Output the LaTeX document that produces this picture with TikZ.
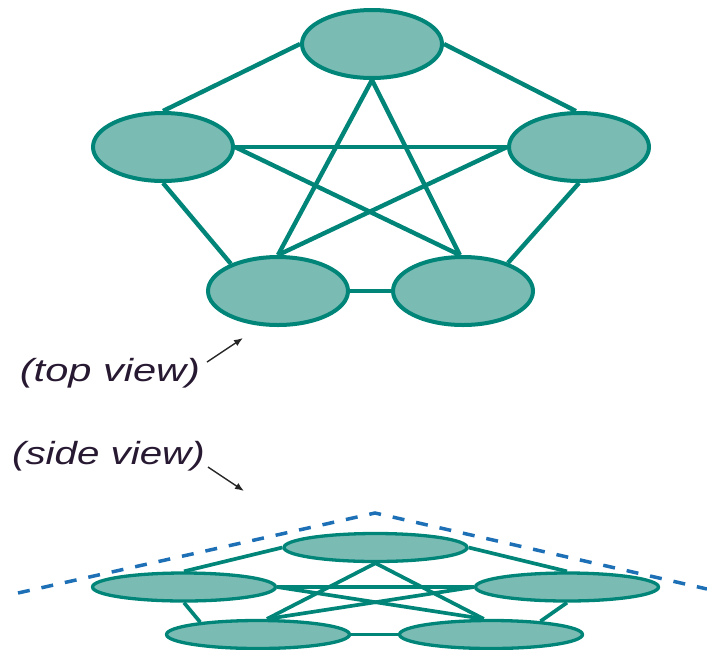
\documentclass[tikz,border=0pt]{standalone}
\usepackage{fontspec}
\setmainfont{Liberation Sans}
\usetikzlibrary{shapes.geometric,arrows.meta}
\definecolor{nodefill}{RGB}{122,187,180}
\definecolor{nodeline}{RGB}{0,133,120}
\definecolor{dashblue}{RGB}{30,112,182}
\definecolor{labeltext}{RGB}{40,25,50}
\begin{document}
\begin{tikzpicture}[x=1pt,y=-1pt,
  topnode/.style={ellipse,draw=nodeline,fill=nodefill,line width=4pt,inner sep=0pt,minimum width=140pt,minimum height=68pt},
  sidenode/.style={ellipse,draw=nodeline,fill=nodefill,line width=3.3pt,inner sep=0pt,minimum width=183pt,minimum height=28pt},
  topedge/.style={draw=nodeline,line width=4.4pt},
  sideedge/.style={draw=nodeline,line width=3.7pt},
  viewlabel/.style={text=labeltext,inner sep=0pt,font=\fontsize{32}{36}\selectfont\itshape},
  pointer/.style={draw=black!85,line width=1.4pt,-{Latex[length=9pt,width=7pt]}}
]
\useasboundingbox (0,0) rectangle (707,649);

% ---------- top view ----------
\node[topnode] (T)  at (372,44)  {};
\node[topnode] (L)  at (163,147) {};
\node[topnode] (R)  at (579,147) {};
\node[topnode] (BL) at (278,291) {};
\node[topnode] (BR) at (463,291) {};

% ---------- side view ----------
\node[sidenode] (S)   at (375.5,547.5) {};
\node[sidenode] (SL)  at (184,587)   {};
\node[sidenode] (SR)  at (567,587)   {};
\node[sidenode] (SBL) at (258,634.5) {};
\node[sidenode] (SBR) at (491,634.5) {};

% top view edges
\path[topedge] (T.west) -- (L.north);
\path[topedge] (T.east) -- (R.95);
\path[topedge] (T.south) -- (BL.north);
\path[topedge] (T.south) -- (BR.95);
\path[topedge] (L.east) -- (R.west);
\path[topedge] (L.east) -- (BR.95);
\path[topedge] (R.west) -- (BL.north);
\path[topedge] (L.south) -- (BL.150);
\path[topedge] (R.south) -- (BR.32);
\path[topedge] (BL.east) -- (BR.west);

% side view edges
\path[sideedge] (S.west) -- (SL.north);
\path[sideedge] (S.east) -- (SR.north);
\path[sideedge] (S.south) -- (SBL.60);
\path[sideedge] (S.south) -- (SBR.115);
\path[sideedge] (SL.east) -- (SR.west);
\path[sideedge] (SL.east) -- (SBR.115);
\path[sideedge] (SR.west) -- (SBL.60);
\path[sideedge] (SL.south) -- (SBL.168);
\path[sideedge] (SR.south) -- (SBR.15);
\path[sideedge] (SBL.east) -- (SBR.west);

% dashed outline of the side view
\coordinate (dl) at (18,593);
\coordinate (dp) at (375,513);
\coordinate (dr) at (707,589);
\draw[dashblue,line width=3.5pt,dash pattern=on 12pt off 12pt] (dl) -- (dp) -- (dr);

% labels and pointers
\node[viewlabel] (tv) at (110,373) {\scalebox{1.3}[1]{(top view)}};
\node[viewlabel] (sv) at (108.5,456) {\scalebox{1.26}[1]{(side view)}};
\coordinate (tvs) at (207,362);
\coordinate (tve) at (243,338);
\coordinate (svs) at (208,467);
\coordinate (sve) at (244,491);
\draw[pointer] (tvs) -- (tve);
\draw[pointer] (svs) -- (sve);
\end{tikzpicture}
\end{document}
